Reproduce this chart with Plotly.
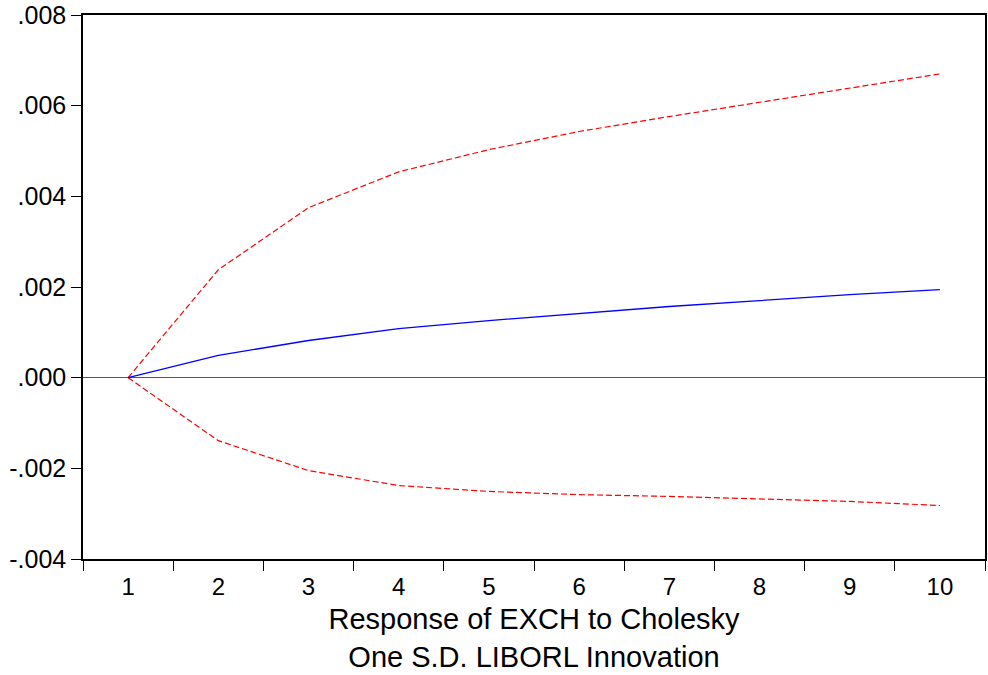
import plotly.graph_objects as go

periods = ["1", "2", "3", "4", "5", "6", "7", "8", "9", "10"]
response = [0.0, 0.00049, 0.00082, 0.00108, 0.00126, 0.00141, 0.00157, 0.00170, 0.00183, 0.00194]
upper = [0.0, 0.00238, 0.00375, 0.00454, 0.00503, 0.00543, 0.00576, 0.00607, 0.00638, 0.00670]
lower = [0.0, -0.00139, -0.00205, -0.00238, -0.00251, -0.00258, -0.00262, -0.00267, -0.00273, -0.00282]
ytickvals = [-0.004, -0.002, 0.0, 0.002, 0.004, 0.006, 0.008]
yticktext = ["-.004", "-.002", ".000", ".002", ".004", ".006", ".008"]

fig = go.Figure()
fig.add_trace(go.Scatter(x=periods, y=upper, mode="lines",
                         line=dict(color="#ff0000", width=1.2, dash="6px,3px")))
fig.add_trace(go.Scatter(x=periods, y=lower, mode="lines",
                         line=dict(color="#ff0000", width=1.2, dash="6px,3px")))
fig.add_trace(go.Scatter(x=periods, y=response, mode="lines",
                         line=dict(color="#0000ff", width=1.3)))

fig.update_layout(
    width=988, height=675,
    margin=dict(l=83, r=1, t=15, b=116),
    paper_bgcolor="white", plot_bgcolor="white",
    showlegend=False,
    font=dict(family="Liberation Sans, Arial, sans-serif", size=24, color="black"),
    xaxis=dict(
        type="category", range=[-0.5, 9.5], tickson="boundaries",
        ticks="outside", ticklen=10, tickcolor="black", tickwidth=1,
        showline=True, linecolor="black", linewidth=1.5, mirror=True,
        showgrid=False, tickfont=dict(size=24), ticklabelstandoff=5,
        title=dict(text="Response of EXCH to Cholesky<br>One S.D. LIBORL Innovation",
                   font=dict(size=29), standoff=10),
    ),
    yaxis=dict(
        range=[-0.004, 0.008], tickvals=ytickvals, ticktext=yticktext,
        ticks="outside", ticklen=10, tickcolor="black", tickwidth=1,
        showline=True, linecolor="black", linewidth=1.5, mirror=True,
        showgrid=False, zeroline=True, zerolinecolor="#555555", zerolinewidth=1,
        tickfont=dict(size=25),
    ),
)

fig.write_html("out.html")
